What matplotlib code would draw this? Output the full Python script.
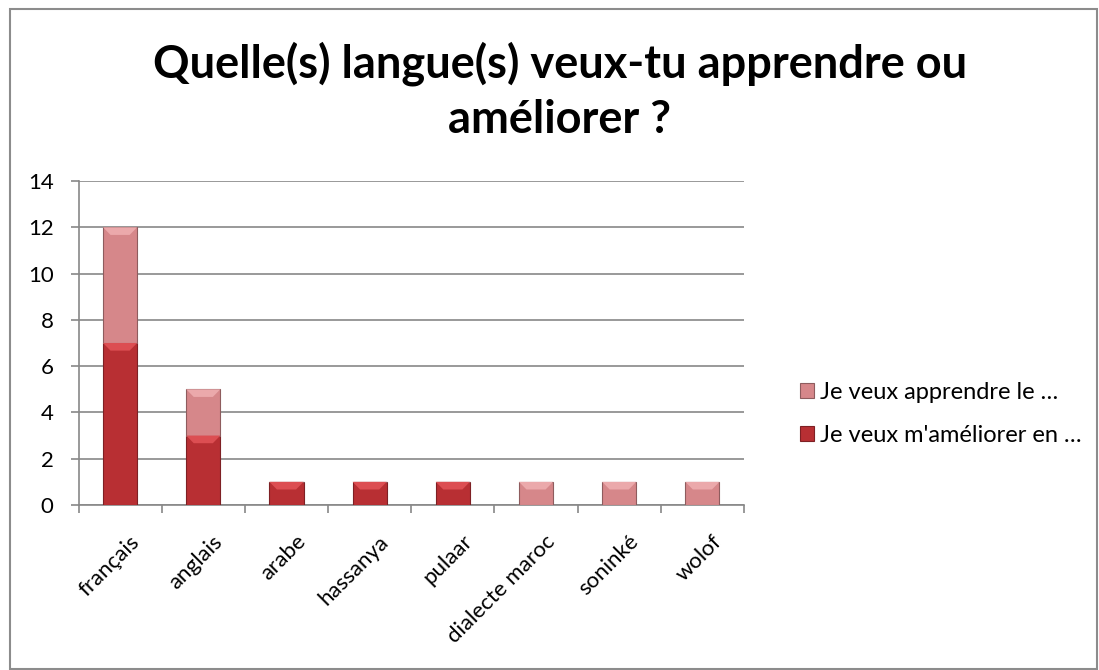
import numpy as np
import matplotlib.pyplot as plt
import matplotlib.transforms as mtransforms
from matplotlib.patches import Rectangle, Polygon

langues = ['français', 'anglais', 'arabe', 'hassanya', 'pulaar',
           'dialecte maroc', 'soninké', 'wolof']
ameliorer = [7, 3, 1, 1, 1, 0, 0, 0]
apprendre = [5, 2, 0, 0, 0, 1, 1, 1]
labels = ["Je veux m'améliorer en …", 'Je veux apprendre le …']

c_dark = '#B82F33'
c_light = '#D6878A'
grid_c = '#888888'

plt.rcParams['font.family'] = ['Lato', 'DejaVu Sans']

fig = plt.figure(figsize=(10.99, 6.70), dpi=100)
ax = fig.add_axes([78.5 / 1099, 1 - 505 / 670, (744 - 78.5) / 1099, (505 - 181) / 670])

x = np.arange(len(langues))
w = 0.41
b1 = ax.bar(x, ameliorer, w, color=c_dark, edgecolor='#7E2024', linewidth=0.8,
            label=labels[0], zorder=3)
b2 = ax.bar(x, apprendre, w, bottom=ameliorer, color=c_light, edgecolor='#8E5C5E',
            linewidth=0.8, label=labels[1], zorder=3)

# bevel highlight at the top of each segment
for bars, hi in [(b1, '#DC4E52'), (b2, '#EBA9AB')]:
    for p in bars:
        if p.get_height() <= 0:
            continue
        x0, y0 = p.get_x(), p.get_y() + p.get_height()
        pw = p.get_width()
        d = 0.33
        ax.add_patch(Polygon([(x0, y0), (x0 + pw, y0), (x0 + pw * 0.78, y0 - d),
                              (x0 + pw * 0.22, y0 - d)], closed=True,
                             facecolor=hi, edgecolor='none', zorder=4))

ax.set_xlim(-0.5, len(langues) - 0.5)
ax.set_ylim(0, 14)
ax.set_yticks(range(0, 15, 2))
ax.yaxis.grid(True, color=grid_c, linewidth=1.2)
ax.set_axisbelow(True)
for s in ['top', 'right']:
    ax.spines[s].set_visible(False)
for s in ['left', 'bottom']:
    ax.spines[s].set_color(grid_c)
    ax.spines[s].set_linewidth(1.2)

ax.set_xticks(x)
ax.set_xticklabels(langues, rotation=45, ha='right', va='top',
                   rotation_mode='anchor', fontsize=16)
ax.tick_params(axis='x', length=0, pad=19)
shift = mtransforms.ScaledTranslation(9 / 100, 0, fig.dpi_scale_trans)
for lab in ax.get_xticklabels():
    lab.set_transform(lab.get_transform() + shift)
ax.set_xticks(np.arange(-0.5, len(langues)), minor=True)
ax.tick_params(axis='x', which='minor', length=6, width=1.2, color=grid_c, direction='out')
ax.tick_params(axis='y', labelsize=16, length=6, width=1.2, color=grid_c, pad=12)

fig.text(560 / 1099, 1 - 64 / 670, 'Quelle(s) langue(s) veux-tu apprendre ou', ha='center',
         va='center', fontsize=32.5, fontweight='bold')
fig.text(560 / 1099, 1 - 120 / 670, 'améliorer ?', ha='center', va='center',
         fontsize=32.5, fontweight='bold')

handles = [b2, b1]
fig.legend(handles, [labels[1], labels[0]], loc='center left',
           bbox_to_anchor=(800 / 1099, 1 - 414 / 670), frameon=False, fontsize=17,
           handlelength=0.6, handleheight=0.6, handletextpad=0.25, labelspacing=0.95,
           borderpad=0, borderaxespad=0)

fig.patches.append(Rectangle((10 / 1099, 1 / 670), 1087 / 1099, 660 / 670,
                             transform=fig.transFigure, fill=False,
                             edgecolor='#8C8C8C', linewidth=1.5))

fig.savefig('out.png', dpi=100)
